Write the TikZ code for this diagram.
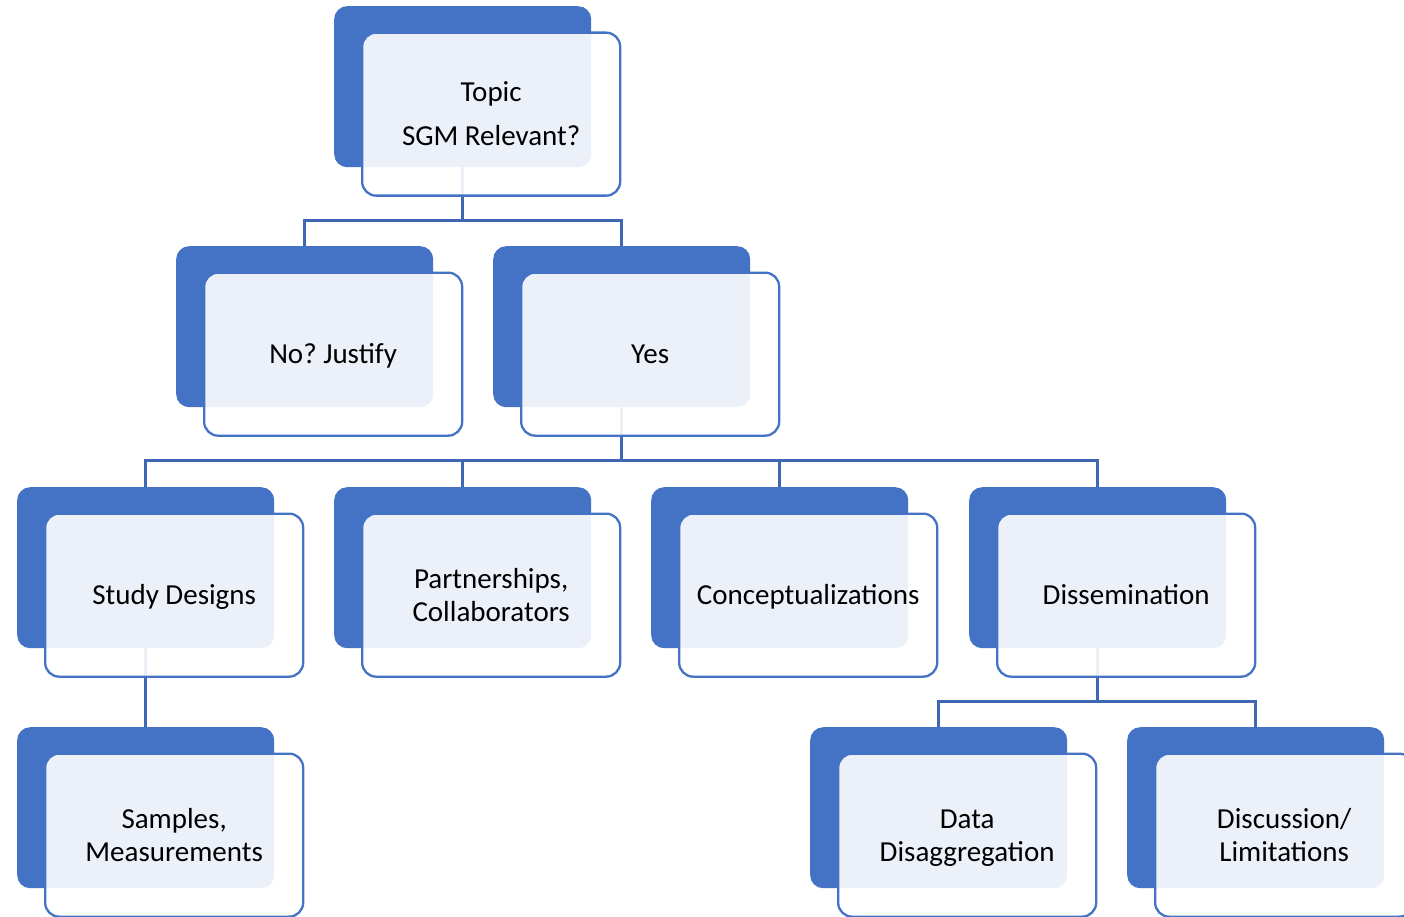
\documentclass[tikz,border=0pt]{standalone}
\usepackage{fontspec}
\setmainfont{Carlito}
\frenchspacing
\usetikzlibrary{backgrounds}
\definecolor{accent}{HTML}{4472C4}
\definecolor{connc}{HTML}{3F67B3}
\tikzset{
  backbox/.style={draw=none, fill=accent, rounded corners=13pt, minimum width=257pt, minimum height=161pt, inner sep=0pt, anchor=north west},
  frontbox/.style={draw=accent, line width=2.3pt, fill=white, fill opacity=0.9, rounded corners=14pt, minimum width=258pt, minimum height=163pt, inner sep=0pt, anchor=north west},
  labeltext/.style={inner sep=0pt, align=center, font=\fontsize{29}{33}\selectfont, text=black},
  conn/.style={draw=connc, line width=2.8pt}
}
\newcommand{\tierbox}[4]{%
  \node[backbox] (#1B) at (#2,#3) {};
  \node[frontbox] (#1) at (#2+27,#3+25.5) {};
  \node[labeltext] (#1T) at ([yshift=-3pt]#1.center) {#4};
}
\begin{document}
\begin{tikzpicture}[x=1pt,y=-1pt]
\useasboundingbox (0,0) rectangle (1404,917);
\clip (0,0) rectangle (1404,917);
\tierbox{topic}{334}{6}{\strut Topic\\[11pt]\strut SGM Relevant?}
\tierbox{no}{176}{246}{\strut No? Justify}
\tierbox{yes}{493}{246}{\strut Yes}
\tierbox{study}{17}{487}{\strut Study Designs}
\tierbox{part}{334}{487}{\strut Partnerships,\\\strut Collaborators}
\tierbox{concept}{651}{487}{\strut Conceptualizations}
\tierbox{dissem}{969}{487}{\strut Dissemination}
\tierbox{samples}{17}{727}{\strut Samples,\\\strut Measurements}
\tierbox{data}{810}{727}{\strut Data\\\strut Disaggregation}
\tierbox{disc}{1127}{727}{\strut Discussion/\\\strut Limitations}
\begin{scope}[on background layer]
\fill[white] (0,0) rectangle (1404,917);
\draw[conn] (topicB.south) -- ++(0,53) coordinate (j1);
\draw[conn] (j1) -| (noB.north);
\draw[conn] (j1) -| (yesB.north);
\draw[conn] (yesB.south) -- ++(0,53) coordinate (j2);
\draw[conn] (j2) -| (studyB.north);
\draw[conn] (j2) -| (partB.north);
\draw[conn] (j2) -| (conceptB.north);
\draw[conn] (j2) -| (dissemB.north);
\draw[conn] (studyB.south) -- (samplesB.north);
\draw[conn] (dissemB.south) -- ++(0,53) coordinate (j3);
\draw[conn] (j3) -| (dataB.north);
\draw[conn] (j3) -| (discB.north);
\end{scope}
\end{tikzpicture}
\end{document}
